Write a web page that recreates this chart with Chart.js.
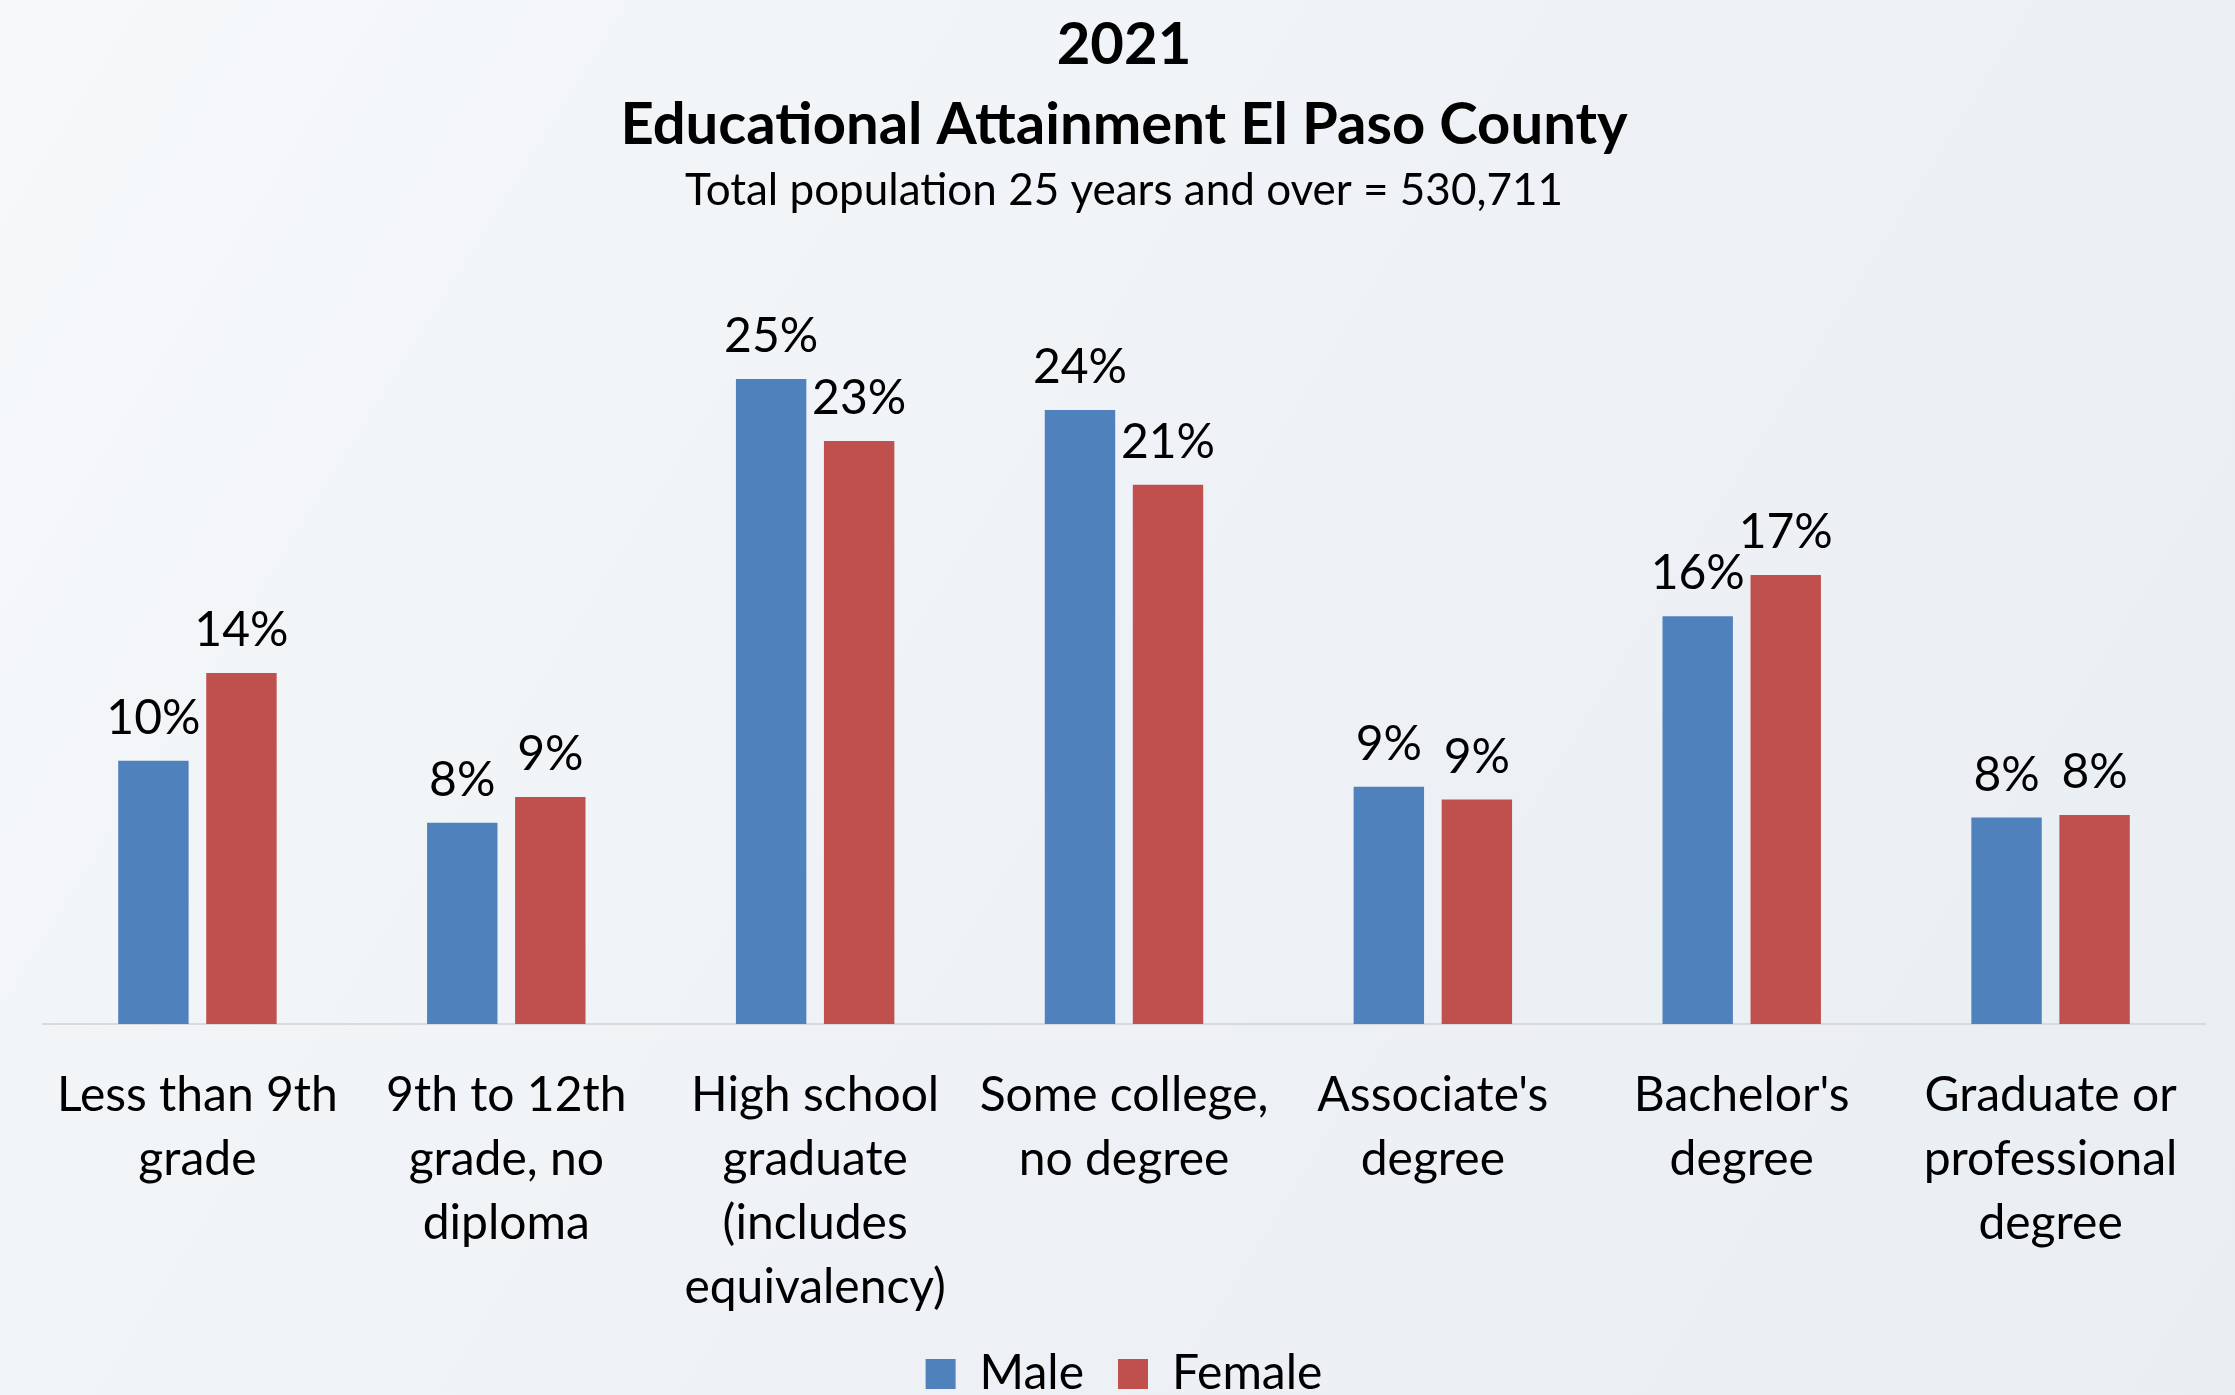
<!DOCTYPE html>
<html>
<head>
<meta charset="utf-8">
<script src="https://cdn.jsdelivr.net/npm/chart.js@4.4.0/dist/chart.umd.min.js"></script>
<style>
  html, body { margin: 0; padding: 0; background: #eef2f6; }
  #wrap { width: 2235px; height: 1395px; position: relative; }
</style>
</head>
<body>
<div id="wrap"><canvas id="c" width="2235" height="1395"></canvas></div>
<script>
const categories = [
  ["Less than 9th", "grade"],
  ["9th to 12th", "grade, no", "diploma"],
  ["High school", "graduate", "(includes", "equivalency)"],
  ["Some college,", "no degree"],
  ["Associate's", "degree"],
  ["Bachelor's", "degree"],
  ["Graduate or", "professional", "degree"]
];
const maleValues = [10.2, 7.8, 25.0, 23.8, 9.2, 15.8, 8.0];
const femaleValues = [13.6, 8.8, 22.6, 20.9, 8.7, 17.4, 8.1];
const seriesNames = ["Male", "Female"];
const titleLines = ["2021", "Educational Attainment El Paso County"];
const subtitleText = "Total population 25 years and over = 530,711";

const FONT = "Lato, 'Open Sans', sans-serif";

const bgPlugin = {
  id: 'bg',
  beforeDraw(chart) {
    const ctx = chart.ctx;
    const w = chart.width, h = chart.height;
    ctx.save();
    const g = ctx.createLinearGradient(0, 0, w, h);
    g.addColorStop(0, '#f6f8fa');
    g.addColorStop(0.5, '#eef2f6');
    g.addColorStop(1, '#e9eef3');
    ctx.fillStyle = g;
    ctx.fillRect(0, 0, w, h);
    ctx.restore();
  }
};

const labelPlugin = {
  id: 'valueLabels',
  afterDatasetsDraw(chart) {
    const ctx = chart.ctx;
    ctx.save();
    ctx.font = "48px " + FONT;
    ctx.fillStyle = '#000';
    ctx.textAlign = 'center';
    ctx.textBaseline = 'alphabetic';
    chart.data.datasets.forEach((ds, di) => {
      const meta = chart.getDatasetMeta(di);
      meta.data.forEach((bar, i) => {
        const v = ds.data[i];
        ctx.fillText(Math.round(v) + '%', bar.x, bar.y - 27);
      });
    });
    ctx.restore();
  }
};

new Chart(document.getElementById('c'), {
  type: 'bar',
  data: {
    labels: categories,
    datasets: [
      { label: seriesNames[0], data: maleValues, backgroundColor: '#4F81BD',
        barPercentage: 0.8, categoryPercentage: 0.57 },
      { label: seriesNames[1], data: femaleValues, backgroundColor: '#C0504D',
        barPercentage: 0.8, categoryPercentage: 0.57 }
    ]
  },
  options: {
    responsive: false,
    animation: false,
    devicePixelRatio: 1,
    layout: { padding: { left: 43, right: 30, top: 0, bottom: -13 } },
    scales: {
      x: {
        grid: { display: false, drawTicks: false },
        border: { display: true, color: '#d9d9d9', width: 2 },
        ticks: {
          color: '#000',
          font: { family: FONT, size: 48, lineHeight: 64 / 48 },
          padding: 40,
          maxRotation: 0,
          autoSkip: false
        },
        afterFit(scale) { scale.height -= 44; }
      },
      y: {
        display: false,
        min: 0,
        max: 30
      }
    },
    plugins: {
      legend: {
        position: 'bottom',
        labels: {
          color: '#000',
          font: { family: FONT, size: 48 },
          boxWidth: 30,
          boxHeight: 30,
          padding: 34
        }
      },
      title: {
        display: true,
        text: titleLines,
        color: '#000',
        font: { family: FONT, size: 58, weight: 'bold', lineHeight: 80 / 58 },
        padding: { top: 5, bottom: 0 }
      },
      subtitle: {
        display: true,
        text: subtitleText,
        color: '#000',
        font: { family: FONT, size: 44, weight: 'normal', lineHeight: 52 / 44 },
        padding: { top: 0, bottom: 33 }
      },
      tooltip: { enabled: false }
    }
  },
  plugins: [bgPlugin, labelPlugin]
});
</script>
</body>
</html>
